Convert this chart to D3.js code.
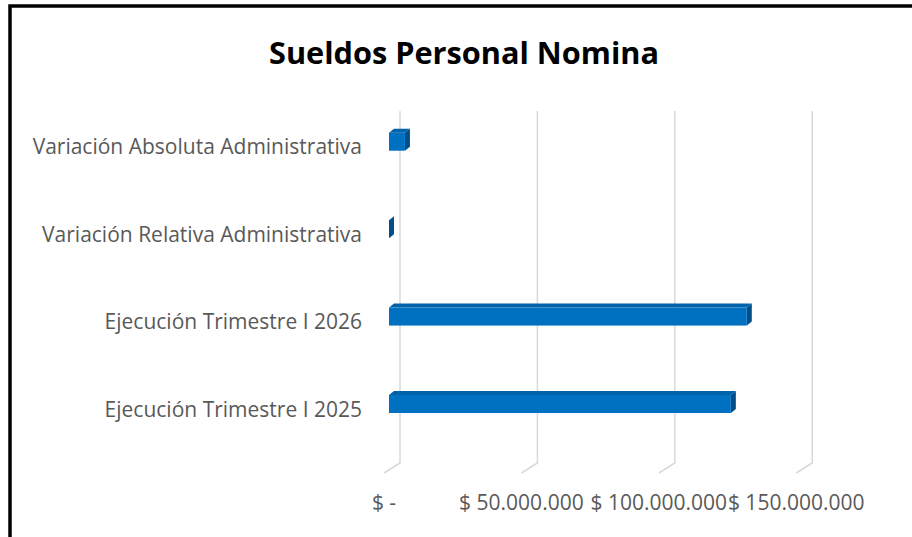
<!DOCTYPE html>
<html>
<head>
<meta charset="utf-8">
<script src="https://cdn.jsdelivr.net/npm/d3@7"></script>
<style>
  body { margin: 0; background: #fff; }
</style>
</head>
<body>
<div id="dataviz"></div>
<script>
// chart data
const categories = [
    "Variación Absoluta Administrativa",
    "Variación Relativa Administrativa",
    "Ejecución Trimestre I 2026",
    "Ejecución Trimestre I 2025"
];
const values = [5800000, 0.047, 130200000, 124400000];
const tickValues = [0, 50000000, 100000000, 150000000];
const tickLabels = ["$ -", "$ 50.000.000", "$ 100.000.000", "$ 150.000.000"];

const width = 912, height = 537;

const svg = d3.select("#dataviz")
    .append("svg")
    .attr("width", width)
    .attr("height", height);

svg.append("rect")
    .attr("width", width).attr("height", height)
    .attr("fill", "#fff");

// outer frame (continues past right / bottom edge)
svg.append("rect")
    .attr("x", 10).attr("y", 6)
    .attr("width", 920).attr("height", 560)
    .attr("fill", "none")
    .attr("stroke", "#000")
    .attr("stroke-width", 3.5);

svg.append("text")
    .attr("x", 464).attr("y", 64)
    .attr("text-anchor", "middle")
    .style("font-family", "'Open Sans', sans-serif")
    .style("font-weight", "bold")
    .style("font-size", "30.7px")
    .attr("fill", "#000")
    .text("Sueldos Personal Nomina");

// scales: x = front face of bars
const x = d3.scaleLinear().domain([0, 150000000]).range([389, 801.2]);
const y = d3.scalePoint().domain(categories).range([141.7, 404]);

// oblique depth offsets
const wall = { dx: 11, dy: -11 }, floorFront = { dx: -5 };
const bar = { dx: 5, dy: -4, h: 18 };
const gridTop = 111, gridBottom = 463;

// gridlines: back wall + floor diagonal
const grid = svg.append("g").attr("stroke", "#d9d9d9").attr("stroke-width", 1.5).attr("fill", "none");
grid.selectAll("path")
    .data(tickValues)
    .join("path")
    .attr("d", d => {
        const xb = x(d) + wall.dx, xf = x(d) + floorFront.dx;
        return `M${xb},${gridTop}L${xb},${gridBottom}L${xf},${gridBottom + 10}`;
    });

// tick labels
svg.append("g")
    .selectAll("text")
    .data(tickValues)
    .join("text")
    .attr("x", d => x(d) + floorFront.dx)
    .attr("y", 510)
    .attr("text-anchor", "middle")
    .style("font-family", "'Open Sans', sans-serif")
    .style("font-size", "21px")
    .attr("fill", "#595959")
    .text((d, i) => tickLabels[i]);

// category labels
svg.append("g")
    .selectAll("text")
    .data(categories)
    .join("text")
    .attr("x", 362)
    .attr("y", d => y(d) + 12.6)
    .attr("text-anchor", "end")
    .style("font-family", "'Open Sans', sans-serif")
    .style("font-size", "21px")
    .attr("fill", "#595959")
    .text(d => d);

// 3d bars
const bars = svg.append("g")
    .selectAll("g")
    .data(categories.map((c, i) => ({ cat: c, value: values[i] })))
    .join("g");

// top face
bars.append("path")
    .attr("fill", "#0062a8")
    .attr("d", d => {
        const x0 = x(0), x1 = x(d.value), y0 = y(d.cat) - bar.h / 2;
        return `M${x0},${y0}L${x1},${y0}L${x1 + bar.dx},${y0 + bar.dy}L${x0 + bar.dx},${y0 + bar.dy}Z`;
    });

// side face
bars.append("path")
    .attr("fill", "#004f8a")
    .attr("d", d => {
        const x1 = x(d.value), y0 = y(d.cat) - bar.h / 2, y1 = y0 + bar.h;
        return `M${x1},${y0}L${x1 + bar.dx},${y0 + bar.dy}L${x1 + bar.dx},${y1 + bar.dy}L${x1},${y1}Z`;
    });

// front face
bars.append("rect")
    .attr("fill", "#0070c0")
    .attr("x", x(0))
    .attr("y", d => y(d.cat) - bar.h / 2)
    .attr("width", d => x(d.value) - x(0))
    .attr("height", bar.h);
</script>
</body>
</html>
